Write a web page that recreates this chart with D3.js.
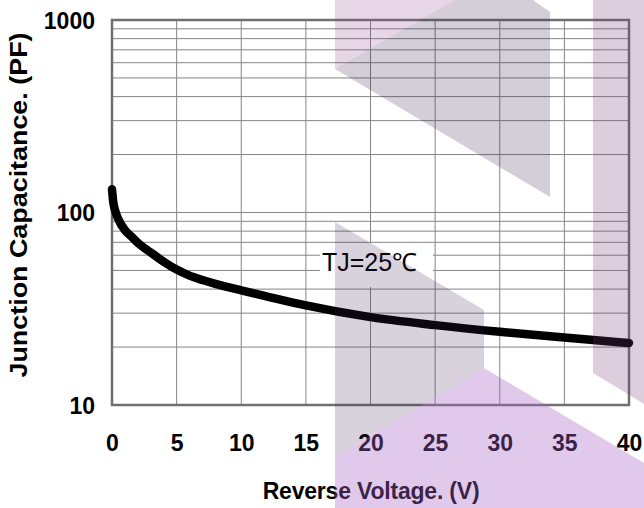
<!DOCTYPE html>
<html>
<head>
<meta charset="utf-8">
<script src="https://cdn.jsdelivr.net/npm/d3@7"></script>
<style>
  body { margin: 0; background: #fff; }
  svg { display: block; font-family: "Liberation Sans", Arial, sans-serif; }
</style>
</head>
<body>
<svg id="chart" width="644" height="508"></svg>
<script>
// curve
const voltage = [0, 0.1, 0.25, 0.5, 1, 1.5, 2, 3, 4, 5, 6, 7, 8, 10, 12, 15, 20, 25, 30, 35, 40]
const capacitance = [132, 113, 102, 92, 81, 75, 69.5, 62, 55.5, 50.5, 47, 44.6, 42.6, 39.4, 36.6, 32.9, 28.6, 26, 24, 22.4, 21]
const xTicks = [0, 5, 10, 15, 20, 25, 30, 35, 40]
const yTicks = [10, 100, 1000]
const yGrid = [20, 30, 40, 50, 60, 70, 80, 90, 100, 200, 300, 400, 500, 600, 700, 800, 900]

const svg = d3.select('#chart')
const plotLeft = 112, plotTop = 20, plotW = 517, plotH = 385

let x = d3.scaleLinear().domain([0, 40]).range([plotLeft, plotLeft + plotW])
let y = d3.scaleLog().domain([10, 1000]).range([plotTop + plotH, plotTop])

// grid
svg.append('g').selectAll('line')
  .data(yGrid)
  .enter()
  .append('line')
  .attr('x1', plotLeft).attr('x2', plotLeft + plotW)
  .attr('y1', d => y(d)).attr('y2', d => y(d))
  .attr('stroke', '#858585')
  .attr('stroke-width', 1)

svg.append('g').selectAll('line')
  .data(xTicks.slice(1, -1))
  .enter()
  .append('line')
  .attr('x1', d => x(d)).attr('x2', d => x(d))
  .attr('y1', plotTop).attr('y2', plotTop + plotH)
  .attr('stroke', '#858585')
  .attr('stroke-width', 1)

// frame
svg.append('rect')
  .attr('x', plotLeft).attr('y', plotTop)
  .attr('width', plotW).attr('height', plotH)
  .attr('fill', 'none')
  .attr('stroke', '#707070')
  .attr('stroke-width', 2.5)

// label box
svg.append('rect')
  .attr('x', 320).attr('y', 243)
  .attr('width', 113).attr('height', 44)
  .attr('fill', '#fff')

svg.append('text')
  .attr('x', 322).attr('y', 271)
  .attr('font-size', 25)
  .attr('fill', '#000')
  .text('TJ=25℃')

// curve
let line = d3.line()
  .x((d, i) => x(voltage[i]))
  .y(d => y(d))
  .curve(d3.curveMonotoneX)

svg.append('path')
  .datum(capacitance)
  .attr('d', line)
  .attr('fill', 'none')
  .attr('stroke', '#000')
  .attr('stroke-width', 8.5)
  .attr('stroke-linecap', 'round')

// tick labels
let xAxis = d3.axisBottom(x).tickValues(xTicks).tickSize(0).tickPadding(0)
let gx = svg.append('g').attr('transform', `translate(0,${plotTop + plotH + 30})`).call(xAxis)
gx.select('.domain').remove()
gx.selectAll('text')
  .attr('font-size', 23).attr('font-weight', 'bold')
  .attr('font-family', '"Liberation Sans", Arial, sans-serif')
  .attr('fill', '#000')

let yAxis = d3.axisLeft(y).tickValues(yTicks).tickFormat(d3.format('d')).tickSize(0).tickPadding(17)
let gy = svg.append('g').attr('transform', `translate(${plotLeft},0)`).call(yAxis)
gy.select('.domain').remove()
gy.selectAll('text')
  .attr('font-size', 23).attr('font-weight', 'bold')
  .attr('font-family', '"Liberation Sans", Arial, sans-serif')
  .attr('fill', '#000')
  .attr('dy', '0.36em')

// axis titles
svg.append('text')
  .attr('x', 371).attr('y', 499)
  .attr('text-anchor', 'middle')
  .attr('font-size', 23).attr('font-weight', 'bold')
  .attr('letter-spacing', -0.2)
  .text('Reverse Voltage. (V)')

svg.append('text')
  .attr('transform', 'translate(27,205) rotate(-90)')
  .attr('text-anchor', 'middle')
  .attr('font-size', 23).attr('font-weight', 'bold')
  .attr('textLength', 345)
  .attr('lengthAdjust', 'spacingAndGlyphs')
  .text('Junction Capacitance. (PF)')

// watermark shapes on top
const shapes = [
  { pts: [[335, 0], [455, 0], [335, 69]], fill: 'rgba(140,70,140,0.22)' },
  { pts: [[335, 69], [455, 0], [533, 0], [550, 12], [550, 197]], fill: 'rgba(60,30,80,0.22)' },
  { pts: [[335, 222], [484, 310], [484, 368], [335, 457]], fill: 'rgba(60,30,80,0.2)' },
  { pts: [[335, 457], [484, 368], [644, 463], [644, 508], [335, 508]], fill: 'rgba(170,100,200,0.35)' },
  { pts: [[593, 0], [644, 0], [644, 404], [593, 373]], fill: 'rgba(120,60,120,0.25)' }
]
svg.append('g').selectAll('polygon')
  .data(shapes)
  .enter()
  .append('polygon')
  .attr('points', d => d.pts.join(' '))
  .attr('fill', d => d.fill)
</script>
</body>
</html>
